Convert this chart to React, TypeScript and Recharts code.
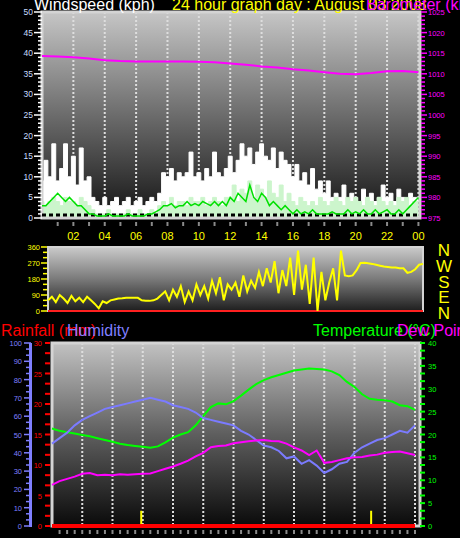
import React from 'react';
import {
  ComposedChart,
  Line,
  Area,
  XAxis,
  YAxis,
  CartesianGrid,
  ReferenceLine,
  ReferenceArea,
} from 'recharts';

const FONT = '"Liberation Sans", Arial, sans-serif';

// ---------- wind (quarter-hour samples, 00:00 .. 24:00) ----------
const gust = [
  9, 14, 10, 18, 9, 12, 18, 10, 15, 8, 17, 9, 10, 5, 4, 3, 5, 3, 4, 5, 3, 4, 5, 3,
  4, 5, 3, 4, 5, 4, 6, 11, 10, 12, 9, 11, 10, 11, 16, 10, 11, 9, 12, 10, 16, 11, 10, 12,
  15, 11, 14, 18, 15, 17, 13, 16, 18, 15, 14, 17, 12, 16, 14, 13, 10, 13, 9, 11, 8, 12, 7, 9,
  6, 9, 5, 6, 5, 8, 4, 6, 5, 4, 7, 5, 6, 4, 5, 8, 5, 6, 4, 7, 5, 4, 6, 5, 5,
];
const speed = [
  4, 3, 4, 5, 4, 3, 5, 4, 4, 3, 5, 4, 3, 2, 1, 1, 1, 2, 1, 1, 1, 1, 2, 1,
  1, 2, 1, 1, 2, 1, 3, 4, 3, 5, 3, 4, 4, 3, 5, 4, 4, 5, 3, 4, 5, 4, 3, 5,
  5, 8, 4, 7, 6, 9, 5, 8, 7, 5, 9, 6, 5, 8, 4, 6, 4, 3, 5, 4, 3, 4, 3, 5,
  4, 3, 4, 5, 4, 3, 5, 4, 5, 4, 3, 5, 4, 3, 5, 4, 3, 4, 3, 5, 4, 5, 3, 4, 4,
];
const avgWind = [
  3, 3, 4, 5, 6, 5, 4, 5, 4, 3, 3, 2, 1, 1, 0.5, 0.5, 0.5, 1, 0.5, 0.5, 0.5, 0.5, 1, 0.5,
  0.5, 0.5, 0.5, 1, 1, 1.5, 2, 3, 3, 3.5, 2.5, 3, 3, 4, 3, 3.5, 3, 4, 3.5, 3, 4, 3, 4, 3,
  5, 4, 6, 5, 4, 8, 5, 4, 6, 5, 3, 4, 3, 2, 3, 2, 1, 2, 1, 1.5, 1, 2, 1, 1,
  1, 1, 1.5, 1, 1, 1, 2, 1, 1.5, 1, 2, 1, 1, 2, 1, 1.5, 2, 1, 1, 2, 1, 2, 3, 4, 5,
];
// hourly barometer, 00:00 .. 24:00
const pressure = [
  1014.3, 1014.2, 1014.0, 1013.7, 1013.3, 1013.1, 1013.0, 1013.0, 1013.0, 1013.0, 1012.9, 1012.8,
  1012.5, 1012.2, 1011.8, 1011.5, 1011.1, 1010.8, 1010.4, 1010.0, 1009.9, 1010.2, 1010.6, 1010.7, 1010.4,
];
const calmLevel = 0.7;

// ---------- wind direction (quarter-hour) ----------
const direction = [
  60, 80, 50, 90, 70, 45, 85, 55, 75, 50, 80, 60, 40, 15, 55, 45, 60, 65, 70, 72, 75, 75, 75, 74,
  60, 58, 57, 60, 70, 90, 110, 60, 120, 80, 140, 50, 110, 60, 150, 90, 140, 70, 170, 100, 190, 60, 150, 120,
  160, 80, 200, 110, 170, 130, 220, 140, 240, 160, 280, 100, 230, 140, 300, 90, 340, 120, 260, 40, 300, 0, 220, 60,
  160, 240, 60, 340, 200, 195, 200, 230, 270, 272, 268, 265, 260, 255, 250, 248, 245, 245, 240, 240, 215, 220, 235, 260, 265,
];

// ---------- climate (half-hour samples) ----------
const humidity = [
  45, 48, 51, 55, 58, 60, 62, 64, 65, 66, 67, 68, 69, 70, 69, 68, 66, 65, 64, 62, 59, 58, 57, 56, 55,
  52, 50, 47, 44, 43, 41, 37, 38, 34, 36, 33, 29, 31, 34, 35, 40, 43, 45, 47, 48, 50, 52, 51, 55,
];
const temperature = [
  21.3, 20.8, 20.5, 20.2, 19.9, 19.6, 19.2, 18.8, 18.4, 18.0, 17.7, 17.5, 17.3, 17.1, 17.4, 18.3, 19.3,
  20.0, 20.5, 22.0, 24.0, 26.0, 26.8, 26.6, 27.3, 28.5, 29.8, 31.0, 31.9, 32.5, 33.0, 33.5, 34.0, 34.2,
  34.4, 34.3, 34.2, 33.8, 33.0, 31.5, 30.4, 28.8, 27.8, 27.6, 27.5, 27.2, 26.4, 26.2, 25.4,
];
const dewPoint = [
  9.0, 9.8, 10.3, 10.8, 11.4, 11.6, 11.1, 11.2, 11.1, 11.3, 11.2, 11.3, 11.4, 11.5, 12.0, 12.5, 13.0,
  13.6, 14.3, 15.2, 16.0, 17.2, 17.5, 17.6, 18.1, 18.3, 18.5, 18.7, 18.8, 18.6, 18.5, 18.0, 17.2, 16.5,
  15.5, 16.5, 13.8, 14.0, 14.4, 14.8, 15.0, 15.1, 15.4, 15.6, 16.0, 16.2, 16.3, 15.9, 15.5,
];
// hourly rainfall (mm)
const rainfall = [0, 0, 0, 0, 0, 0, 0, 0, 0, 0, 0, 0, 0, 0, 0, 0, 0, 0, 0, 0, 0, 0, 0, 0, 0];
const rainMarkers = [5.9, 21.1];
const rainMarkerHeight = 2.5;

// ---------- tick labels ----------
const hourLabels = ['02', '04', '06', '08', '10', '12', '14', '16', '18', '20', '22', '00'];
const labelHours = [2, 4, 6, 8, 10, 12, 14, 16, 18, 20, 22, 24];
const compass = ['N', 'W', 'S', 'E', 'N'];

// ---------- tables ----------
const windTable = gust.map((g, i) => ({
  t: i / 4,
  gust: g,
  speed: speed[i],
  avg: avgWind[i],
  pressure: i % 4 === 0 ? pressure[i / 4] : null,
}));
const dirTable = direction.map((d, i) => ({ t: i / 4, dir: d }));
const climateTable = humidity.map((h, i) => ({
  t: i / 2,
  hum: h,
  temp: temperature[i],
  dew: dewPoint[i],
  rain: i % 2 === 0 ? rainfall[i / 2] : null,
}));

const range = (from: number, to: number, step: number) => {
  const out: number[] = [];
  const n = Math.round((to - from) / step);
  for (let i = 0; i <= n; i++) out.push(+(from + i * step).toFixed(4));
  return out;
};
const isMult = (v: number, m: number) => Math.abs(v / m - Math.round(v / m)) < 0.01;

const windTicks = range(0, 50, 1);
const windGrid = range(0, 50, 5);
const baroTicks = range(975, 1025, 1);
const hourTicks = range(1, 24, 1);
const gridHours = range(0, 24, 2);
const dirTicks = range(0, 360, 30);
const dirGrid = [90, 180, 270];
const humTicks = range(0, 100, 10 / 3);
const humGrid = range(0, 100, 10);
const rainTicks = range(0, 30, 5 / 3);
const tempTicks = range(0, 40, 5 / 3);
const halfHourTicks = range(0.5, 24, 0.5);

// left-axis anchor columns (px)
const WIND_AX = 42;
const DIR_AX = 48;
const HUM_AX = 31;
const RAIN_AX = 52;

// ---------- custom ticks ----------
const WindTick = (p: any) => {
  const { y, payload } = p;
  const x = WIND_AX;
  const v = payload.value;
  const major = isMult(v, 5);
  return (
    <g>
      <line x1={x - (major ? 8 : 4)} x2={x} y1={y} y2={y} stroke="#ffffff" strokeWidth={1.5} />
      {major && (
        <text x={x - 9} y={y + 3} textAnchor="end" fill="#c8dcff" fontSize={8.5} fontFamily={FONT}>
          {v}
        </text>
      )}
    </g>
  );
};
const BaroTick = (p: any) => {
  const { x, y, payload } = p;
  const v = payload.value;
  const major = isMult(v, 5);
  return (
    <g>
      <line x1={x + 1} x2={x + (major ? 7 : 5)} y1={y} y2={y} stroke="#ff00ff" strokeWidth={1.5} />
      {major && (
        <text x={x + 8} y={y + 3} textAnchor="start" fill="#ff00ff" fontSize={7.5} fontFamily={FONT}>
          {v}
        </text>
      )}
    </g>
  );
};
const HourTick = (p: any) => {
  const { x, y, payload } = p;
  const v = payload.value;
  const idx = labelHours.indexOf(v);
  return (
    <g>
      <line x1={x} x2={x} y1={y + 4} y2={y + 8} stroke="#8a8a8a" strokeWidth={2} />
      {idx >= 0 && (
        <text x={x} y={y + 22} textAnchor="middle" fill="#ffff00" fontSize={11} fontFamily={FONT}>
          {hourLabels[idx]}
        </text>
      )}
    </g>
  );
};
const DirTick = (p: any) => {
  const { y, payload } = p;
  const x = DIR_AX;
  const v = payload.value;
  const major = isMult(v, 90);
  return (
    <g>
      <line x1={x - (major ? 7 : 5)} x2={x - 1} y1={y} y2={y} stroke="#ffff00" strokeWidth={1.5} />
      {major && (
        <text x={x - 8} y={y + 3} textAnchor="end" fill="#ffff00" fontSize={7.5} fontFamily={FONT}>
          {v}
        </text>
      )}
    </g>
  );
};
const HumTick = (p: any) => {
  const { y, payload } = p;
  const x = HUM_AX;
  const v = payload.value;
  const major = isMult(v, 10);
  return (
    <g>
      <line x1={x - (major ? 7 : 5)} x2={x} y1={y} y2={y} stroke="#7f7fff" strokeWidth={1.5} />
      {major && (
        <text x={x - 9} y={y + 3} textAnchor="end" fill="#7f7fff" fontSize={7.5} fontFamily={FONT}>
          {Math.round(v)}
        </text>
      )}
    </g>
  );
};
const RainTick = (p: any) => {
  const { y, payload } = p;
  const x = RAIN_AX;
  const v = payload.value;
  const major = isMult(v, 5);
  return (
    <g>
      <line x1={x - 7} x2={x - 2} y1={y} y2={y} stroke="#ff0000" strokeWidth={2} />
      {major && (
        <text x={x - 10} y={y + 3} textAnchor="end" fill="#ff0000" fontSize={7.5} fontFamily={FONT}>
          {Math.round(v)}
        </text>
      )}
    </g>
  );
};
const TempTick = (p: any) => {
  const { x, y, payload } = p;
  const v = payload.value;
  const major = isMult(v, 5);
  return (
    <g>
      <line x1={x} x2={x + 5} y1={y} y2={y} stroke="#00ff00" strokeWidth={2} />
      {major && (
        <text x={x + 8} y={y + 3} textAnchor="start" fill="#00ff00" fontSize={7.5} fontFamily={FONT}>
          {Math.round(v)}
        </text>
      )}
    </g>
  );
};
const MinorXTick = (p: any) => {
  const { x, y } = p;
  return <line x1={x} x2={x} y1={y + 4} y2={y + 8} stroke="#8a8a8a" strokeWidth={2} />;
};

const gridStyle = { stroke: '#dedede', strokeWidth: 2, strokeDasharray: '2 2' };
const frameColor = '#d4d4d4';

const grad = (id: string, top: string, mid: string, bottom: string) => (
  <defs>
    <linearGradient id={id} x1="0" y1="0" x2="0" y2="1">
      <stop offset="0%" stopColor={top} />
      <stop offset="50%" stopColor={mid} />
      <stop offset="100%" stopColor={bottom} />
    </linearGradient>
  </defs>
);

export default function App() {
  return (
    <div
      style={{
        position: 'absolute',
        left: 0,
        top: 0,
        width: 460,
        height: 538,
        background: '#000',
        overflow: 'hidden',
        fontFamily: FONT,
      }}
    >
      {/* ---------------- wind / barometer ---------------- */}
      <div style={{ position: 'absolute', left: 0, top: 0 }}>
        <ComposedChart width={460} height={245} data={windTable} margin={{ top: 12, right: 0, bottom: 0, left: 0 }}>
          {grad('gWind', '#c6c6c6', '#6c6c6c', '#141414')}
          <XAxis
            dataKey="t"
            type="number"
            domain={[0, 24.1]}
            ticks={hourTicks}
            interval={0}
            height={27}
            tickSize={0}
            tickMargin={0}
            axisLine={false}
            tickLine={false}
            tick={<HourTick />}
          />
          <XAxis xAxisId="gx" dataKey="t" type="number" domain={[0, 24.1]} ticks={gridHours} hide />
          <YAxis
            yAxisId="wind"
            domain={[0, 50]}
            ticks={windTicks}
            interval={0}
            width={42}
            tickSize={0}
            tickMargin={0}
            axisLine={false}
            tickLine={false}
            tick={<WindTick />}
          />
          <YAxis
            yAxisId="baro"
            orientation="right"
            domain={[975, 1025]}
            ticks={baroTicks}
            interval={0}
            width={40}
            tickSize={0}
            tickMargin={0}
            axisLine={false}
            tickLine={false}
            tick={<BaroTick />}
          />
          <YAxis yAxisId="gy" domain={[0, 50]} ticks={windGrid} hide />
          <CartesianGrid xAxisId="gx" yAxisId="gy" fill="url(#gWind)" fillOpacity={1} {...gridStyle} />
          <Area
            yAxisId="wind"
            dataKey="gust"
            type="step"
            stroke="#ffffff"
            strokeWidth={1}
            fill="#ffffff"
            fillOpacity={1}
            isAnimationActive={false}
            dot={false}
            activeDot={false}
          />
          <Area
            yAxisId="wind"
            dataKey="speed"
            type="step"
            stroke="#ccf5cc"
            strokeWidth={1}
            fill="#ccf5cc"
            fillOpacity={1}
            isAnimationActive={false}
            dot={false}
            activeDot={false}
          />
          <ReferenceLine yAxisId="wind" y={calmLevel} stroke="#000" strokeWidth={3} strokeDasharray="4 3" />
          <Line
            yAxisId="wind"
            dataKey="avg"
            stroke="#00e000"
            strokeWidth={1.5}
            dot={false}
            isAnimationActive={false}
          />
          <Line
            yAxisId="baro"
            dataKey="pressure"
            stroke="#ff00ff"
            strokeWidth={2}
            dot={false}
            connectNulls
            isAnimationActive={false}
          />
          <ReferenceArea
            yAxisId="wind"
            x1={0}
            x2={24.1}
            y1={0}
            y2={50}
            fill="none"
            stroke={frameColor}
            strokeWidth={3}
          />
        </ComposedChart>
      </div>

      {/* ---------------- wind direction ---------------- */}
      <div style={{ position: 'absolute', left: 0, top: 240 }}>
        <ComposedChart width={460} height={77} data={dirTable} margin={{ top: 7, right: 37, bottom: 6, left: 0 }}>
          {grad('gDir', '#cacaca', '#7a7a7a', '#1e1e1e')}
          <XAxis dataKey="t" type="number" domain={[0, 24]} hide />
          <YAxis
            domain={[0, 360]}
            ticks={dirTicks}
            interval={0}
            width={48}
            tickSize={0}
            tickMargin={0}
            axisLine={false}
            tickLine={false}
            tick={<DirTick />}
          />
          <YAxis yAxisId="gy" domain={[0, 360]} ticks={dirGrid} hide />
          <CartesianGrid yAxisId="gy" vertical={false} fill="url(#gDir)" fillOpacity={1} {...gridStyle} />
          <ReferenceLine y={0} stroke="#ff2020" strokeWidth={2} />
          <Line dataKey="dir" stroke="#ffff00" strokeWidth={2} dot={false} isAnimationActive={false} />
          <ReferenceArea x1={0} x2={24} y1={0} y2={360} fill="none" stroke={frameColor} strokeWidth={2} />
        </ComposedChart>
      </div>

      {/* humidity axis spine */}
      <div style={{ position: 'absolute', left: HUM_AX - 2, top: 343, width: 3, height: 184, background: '#7f7fff' }} />

      {/* ---------------- rainfall / humidity / temperature ---------------- */}
      <div style={{ position: 'absolute', left: 0, top: 335 }}>
        <ComposedChart width={460} height={201} data={climateTable} margin={{ top: 8, right: 0, bottom: 0, left: 0 }}>
          {grad('gClim', '#c2c2c2', '#5e5e5e', '#0a0a0a')}
          <XAxis
            dataKey="t"
            type="number"
            domain={[0, 24.33]}
            ticks={halfHourTicks}
            interval={0}
            height={10}
            tickSize={0}
            tickMargin={0}
            axisLine={false}
            tickLine={false}
            tick={<MinorXTick />}
          />
          <XAxis xAxisId="gx" dataKey="t" type="number" domain={[0, 24.33]} ticks={gridHours} hide />
          <YAxis
            yAxisId="hum"
            domain={[0, 100]}
            ticks={humTicks}
            interval={0}
            width={31}
            tickSize={0}
            tickMargin={0}
            axisLine={false}
            tickLine={false}
            tick={<HumTick />}
          />
          <YAxis
            yAxisId="rain"
            domain={[0, 30]}
            ticks={rainTicks}
            interval={0}
            width={21}
            tickSize={0}
            tickMargin={0}
            axisLine={false}
            tickLine={false}
            tick={<RainTick />}
          />
          <YAxis
            yAxisId="temp"
            orientation="right"
            domain={[0, 40]}
            ticks={tempTicks}
            interval={0}
            width={40}
            tickSize={0}
            tickMargin={0}
            axisLine={false}
            tickLine={false}
            tick={<TempTick />}
          />
          <YAxis yAxisId="gy" domain={[0, 100]} ticks={humGrid} hide />
          <CartesianGrid xAxisId="gx" yAxisId="gy" fill="url(#gClim)" fillOpacity={1} {...gridStyle} />
          <Line yAxisId="temp" dataKey="temp" stroke="#00ff00" strokeWidth={2} dot={false} isAnimationActive={false} />
          <Line yAxisId="hum" dataKey="hum" stroke="#7b7bff" strokeWidth={2} dot={false} isAnimationActive={false} />
          <Line yAxisId="temp" dataKey="dew" stroke="#ff00ff" strokeWidth={2} dot={false} isAnimationActive={false} />
          {rainMarkers.map((h) => (
            <ReferenceLine
              key={h}
              yAxisId="rain"
              segment={[
                { x: h, y: 0 },
                { x: h, y: rainMarkerHeight },
              ]}
              stroke="#ffff00"
              strokeWidth={2}
            />
          ))}
          <Line
            yAxisId="rain"
            dataKey="rain"
            stroke="#ff0000"
            strokeWidth={4}
            dot={false}
            connectNulls
            isAnimationActive={false}
          />
          <ReferenceArea
            yAxisId="hum"
            x1={0}
            x2={24.33}
            y1={0}
            y2={100}
            fill="none"
            stroke={frameColor}
            strokeWidth={3}
          />
        </ComposedChart>
      </div>

      {/* ---------------- titles ---------------- */}
      <svg width={460} height={538} style={{ position: 'absolute', left: 0, top: 0, pointerEvents: 'none' }}>
        <g fontFamily={FONT} fontSize={16}>
          <text x={34} y={10} fill="#ffffff">Windspeed (kph)</text>
          <text x={172} y={10} fill="#ffff00">24 hour graph day : August 03 2008</text>
          <text x={366} y={10} fill="#ff00ff">Barometer (kPa)</text>
          <text x={1} y={336} fill="#ff0000">Rainfall (mm)</text>
          <text x={67} y={336} fill="#7f7fff">Humidity</text>
          <text x={313} y={336} fill="#00ff00">Temperature (°C)</text>
          <text x={397} y={336} fill="#ff00ff">Dew Point</text>
        </g>
        <g fontFamily={FONT} fontSize={17} fill="#ffff00" textAnchor="middle">
          {compass.map((c, i) => (
            <text key={i} x={444} y={256 + i * 15.8}>
              {c}
            </text>
          ))}
        </g>
      </svg>
    </div>
  );
}
